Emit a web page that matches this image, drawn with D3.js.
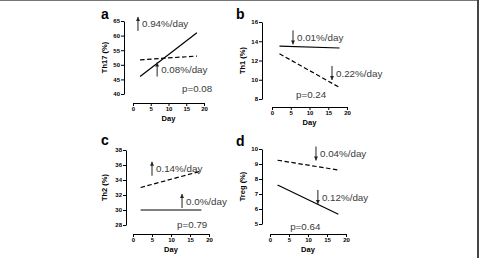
<!DOCTYPE html>
<html lang="en">
<head>
<meta charset="utf-8">
<title>Th17 Th1 Th2 Treg slopes</title>
<script src="https://cdn.jsdelivr.net/npm/d3@7"></script>
<style>
  body { margin: 0; background: #fff; }
  svg { display: block; font-family: "Liberation Sans", Arial, sans-serif; }
  .tick text { font-size: 6px; font-weight: bold; }
  .axtitle { font-size: 7.5px; font-weight: bold; }
  .note { font-size: 9.8px; fill: #3a3a3a; }
  .plabel { font-size: 14px; font-weight: bold; }
</style>
</head>
<body>
<svg width="479" height="258"></svg>
<script>
// data
const panels = ["a", "b", "c", "d"];
const yLabels = ["Th17 (%)", "Th1 (%)", "Th2 (%)", "Treg (%)"];
const yDomains = [[40, 65], [8, 16], [28, 38], [5, 10]];
const yTicks = [[40, 45, 50, 55, 60, 65], [8, 10, 12, 14, 16], [28, 30, 32, 34, 36, 38], [5, 6, 7, 8, 9, 10]];
const xTicks = [0, 5, 10, 15, 20];
const days = [2, 18];
const solidLines = [[46, 61], [13.5, 13.3], [30, 30], [7.6, 5.65]];
const dashedLines = [[51.7, 53], [12.7, 9.2], [33, 35.2], [9.25, 8.6]];
const pValues = ["p=0.08", "p=0.24", "p=0.79", "p=0.64"];

// slope notes: [day, value, direction, text]
const notes = [
  [[1.4, 64, "up", "0.94%/day"], [6.8, 48.4, "up", "0.08%/day"]],
  [[5.6, 14.4, "down", "0.01%/day"], [16, 10.7, "down", "0.22%/day"]],
  [[5, 35.5, "up", "0.14%/day"], [12.9, 31.2, "up", "0.0%/day"]],
  [[12.1, 9.7, "down", "0.04%/day"], [12.6, 6.8, "down", "0.12%/day"]]
];
const pPos = [[13.8, 40.7], [6.4, 8.1], [11.6, 27.6], [5.3, 4.6]];

// layout (pixels)
const layout = [
  {x0: 133, x1: 204, yTop: 21, yBot: 94, yAx: 124, xAx: 103, lab: [101, 19], yt: 107},
  {x0: 272, x1: 347, yTop: 22, yBot: 99, yAx: 262, xAx: 107, lab: [236, 19], yt: 245},
  {x0: 133, x1: 209, yTop: 150, yBot: 225, yAx: 126, xAx: 234, lab: [101, 145], yt: 107},
  {x0: 270, x1: 346, yTop: 149, yBot: 224, yAx: 262, xAx: 234, lab: [236, 146], yt: 245}
];

const svg = d3.select("svg");

// frame edges
svg.append("line").attr("x1", 0).attr("x2", 479).attr("y1", 0.5).attr("y2", 0.5)
  .attr("stroke", "#777").attr("stroke-width", 1);
svg.append("line").attr("x1", 478).attr("x2", 478).attr("y1", 0).attr("y2", 258)
  .attr("stroke", "#444").attr("stroke-width", 2);

panels.forEach((p, i) => {
  const L = layout[i];
  const x = d3.scaleLinear().domain([0, 20]).range([L.x0, L.x1]);
  const y = d3.scaleLinear().domain(yDomains[i]).range([L.yBot, L.yTop]);
  const g = svg.append("g");

  // y axis
  g.append("g")
    .attr("transform", `translate(${L.yAx},0)`)
    .call(d3.axisLeft(y).tickValues(yTicks[i]).tickFormat(d3.format("d"))
      .tickSize(3).tickPadding(1).tickSizeOuter(0))
    .call(a => a.selectAll("line,path").attr("stroke", "#000"));

  // x axis
  g.append("g")
    .attr("transform", `translate(0,${L.xAx})`)
    .call(d3.axisBottom(x).tickValues(xTicks).tickFormat(d3.format("d"))
      .tickSize(3).tickPadding(1).tickSizeOuter(0))
    .call(a => a.selectAll("line,path").attr("stroke", "#000"));

  g.append("text").attr("class", "axtitle")
    .attr("x", (L.x0 + L.x1) / 2).attr("y", L.xAx + 18)
    .attr("text-anchor", "middle").text("Day");

  g.append("text").attr("class", "axtitle")
    .attr("transform", `translate(${L.yt},${(L.yTop + L.yBot) / 2}) rotate(-90)`)
    .attr("text-anchor", "middle").text(yLabels[i]);

  g.append("text").attr("class", "plabel")
    .attr("x", L.lab[0]).attr("y", L.lab[1]).text(p);

  const line = d3.line().x(d => x(d[0])).y(d => y(d[1]));
  g.append("path")
    .attr("d", line(days.map((d, k) => [d, solidLines[i][k]])))
    .attr("stroke", "#000").attr("stroke-width", 1.2).attr("fill", "none");
  g.append("path")
    .attr("d", line(days.map((d, k) => [d, dashedLines[i][k]])))
    .attr("stroke", "#000").attr("stroke-width", 1.2).attr("fill", "none")
    .attr("stroke-dasharray", "4.5,2.5");

  notes[i].forEach(n => {
    const cx = x(n[0]), cy = y(n[1]);
    const up = n[2] === "up";
    const tip = up ? cy - 7 : cy + 7;
    const base = up ? cy + 7 : cy - 7;
    g.append("line").attr("x1", cx).attr("x2", cx).attr("y1", base).attr("y2", tip)
      .attr("stroke", "#222").attr("stroke-width", 1);
    const dir = up ? 1 : -1;
    g.append("path")
      .attr("d", `M${cx - 2},${tip + dir * 4}L${cx},${tip}L${cx + 2},${tip + dir * 4}Z`)
      .attr("fill", "#222");
    g.append("text").attr("class", "note")
      .attr("x", cx + 4).attr("y", cy + 3.5).text(n[3]);
  });

  g.append("text").attr("class", "note")
    .attr("x", x(pPos[i][0])).attr("y", y(pPos[i][1])).text(pValues[i]);
});
</script>
</body>
</html>
